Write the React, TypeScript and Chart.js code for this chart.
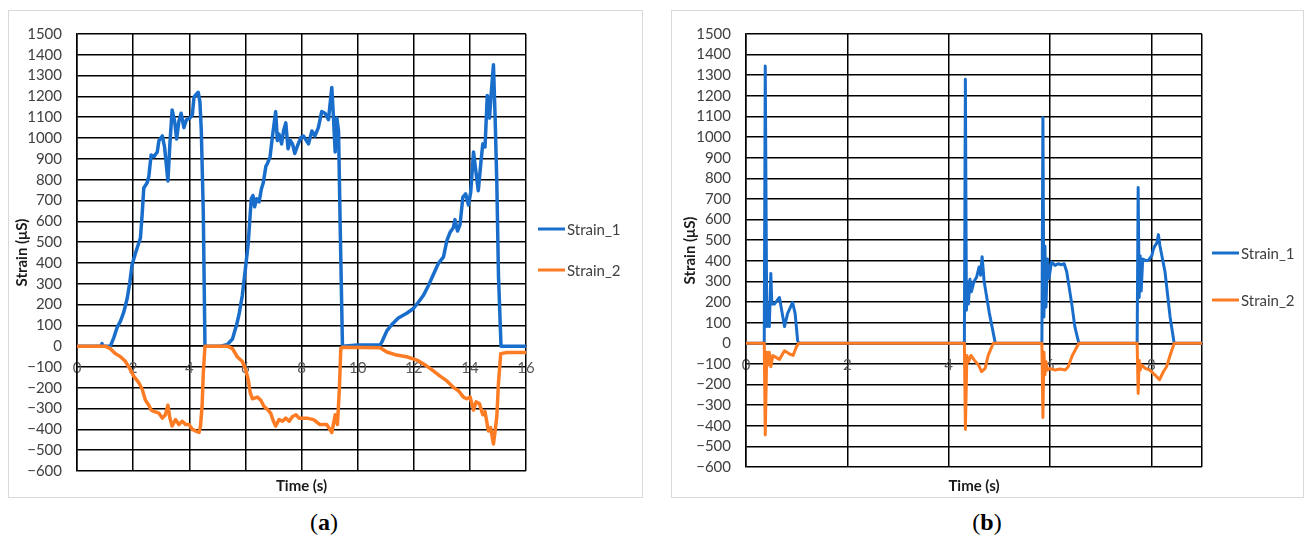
import React, { useEffect, useRef } from 'react';
import { Chart, registerables } from 'chart.js';

Chart.register(...registerables);

// ---------- Panel (a) data ----------
const timeA1 = [
  0, 0.85, 0.89, 0.93, 1.19, 1.31, 1.43, 1.55, 1.67, 1.79,
  1.88, 1.96, 2.08, 2.26, 2.32, 2.38, 2.5, 2.56, 2.64, 2.74,
  2.86, 2.92, 3.04, 3.12, 3.24, 3.31, 3.39, 3.48, 3.55, 3.63,
  3.71, 3.81, 3.9, 4.02, 4.11, 4.17, 4.26, 4.32, 4.38, 4.43,
  4.5, 4.56, 5.12, 5.36, 5.54, 5.69, 5.77, 5.89, 6.01, 6.1,
  6.17, 6.21, 6.27, 6.33, 6.4, 6.49, 6.57, 6.64, 6.73, 6.79,
  6.88, 6.96, 7.08, 7.14, 7.2, 7.29, 7.36, 7.44, 7.52, 7.6,
  7.68, 7.76, 7.86, 7.98, 8.07, 8.25, 8.37, 8.48, 8.6, 8.72,
  8.84, 8.96, 9.08, 9.14, 9.2, 9.26, 9.32, 9.38, 9.46, 10.0,
  10.33, 10.8, 10.86, 11.04, 11.22, 11.45, 11.75, 11.99, 12.17, 12.34,
  12.52, 12.7, 12.88, 13.06, 13.18, 13.29, 13.41, 13.47, 13.56, 13.65,
  13.75, 13.85, 13.95, 14.03, 14.13, 14.22, 14.3, 14.39, 14.46, 14.54,
  14.62, 14.7, 14.75, 14.84, 14.9, 14.96, 15.02, 15.11, 16,
];
const strainA1 = [
  0, 0, 12, 0, 0, 40, 90, 120, 165, 230,
  305, 390, 445, 520, 630, 760, 785, 815, 918, 910,
  933, 988, 1010, 957, 794, 972, 1135, 1080, 995, 1080,
  1119, 1050, 1088, 1096, 1112, 1197, 1212, 1220, 1174, 1034,
  646, 0, 0, 8, 34, 104, 150, 243, 383, 491,
  631, 708, 724, 670, 708, 693, 755, 786, 864, 879,
  910, 1003, 1127, 988, 1019, 972, 1034, 1073, 949, 988,
  972, 926, 964, 1003, 1010, 972, 1034, 1010, 1050, 1127,
  1119, 1088, 1243, 1096, 933, 1096, 1034, 569, 0, 5,
  5, 5, 19, 73, 104, 135, 158, 181, 212, 243,
  290, 344, 398, 429, 507, 546, 569, 608, 553, 584,
  716, 732, 678, 740, 933, 833, 747, 879, 972, 957,
  1205, 1096, 1197, 1352, 1096, 786, 336, 0, 0,
];
const timeA2 = [
  0, 1.0, 1.19, 1.37, 1.55, 1.73, 1.9, 2.02, 2.2, 2.32,
  2.44, 2.56, 2.64, 2.76, 2.92, 3.04, 3.15, 3.24, 3.31, 3.39,
  3.51, 3.63, 3.75, 3.87, 3.99, 4.11, 4.23, 4.35, 4.4, 4.46,
  4.5, 4.56, 5.36, 5.54, 5.71, 5.89, 6.01, 6.1, 6.17, 6.25,
  6.43, 6.55, 6.67, 6.81, 6.9, 7.0, 7.08, 7.2, 7.32, 7.44,
  7.56, 7.68, 7.8, 7.92, 8.19, 8.43, 8.66, 8.9, 9.08, 9.2,
  9.28, 9.35, 9.4, 9.46, 10.8, 11.04, 11.39, 11.75, 12.11, 12.4,
  12.64, 12.94, 13.18, 13.41, 13.59, 13.77, 13.89, 14.01, 14.13, 14.22,
  14.34, 14.46, 14.54, 14.66, 14.74, 14.84, 14.9, 14.96, 15.02, 15.1,
  15.31, 16,
];
const strainA2 = [
  0, 0, -12, -36, -51, -74, -113, -144, -175, -206,
  -260, -284, -307, -315, -322, -346, -330, -284, -346, -384,
  -353, -377, -361, -377, -377, -400, -408, -415, -384, -284,
  -129, 0, 0, -12, -51, -74, -113, -160, -222, -253,
  -245, -260, -291, -307, -322, -361, -384, -353, -361, -346,
  -361, -338, -330, -346, -346, -353, -377, -377, -415, -330,
  -377, -206, -12, -5, -8, -28, -43, -51, -67, -90,
  -113, -144, -167, -198, -214, -245, -253, -245, -307, -268,
  -276, -330, -315, -408, -392, -470, -408, -338, -175, -36,
  -31, -31,
];

// ---------- Panel (b) data ----------
const timeB1 = [
  0, 0.36, 0.38, 0.41, 0.43, 0.46, 0.49, 0.51, 0.56, 0.66,
  0.76, 0.82, 0.92, 0.97, 1.02, 1.05, 4.31, 4.33, 4.35, 4.37,
  4.39, 4.42, 4.45, 4.5, 4.55, 4.6, 4.63, 4.66, 4.7, 4.8,
  4.92, 5.84, 5.86, 5.88, 5.9, 5.92, 5.95, 5.98, 6.03, 6.1,
  6.16, 6.23, 6.28, 6.33, 6.43, 6.49, 6.57, 7.72, 7.74, 7.76,
  7.78, 7.8, 7.83, 7.88, 7.94, 8.01, 8.04, 8.07, 8.11, 8.14,
  8.17, 8.27, 8.37, 8.45, 9,
];
const strainB1 = [
  0, 0, 1345, 81, 190, 81, 339, 190, 190, 222,
  81, 144, 198, 144, 11, 0, 0, 1280, 160, 300,
  190, 310, 250, 300, 320, 370, 330, 420, 300, 150,
  0, 0, 1095, 128, 472, 175, 409, 315, 394, 378,
  386, 381, 386, 347, 190, 81, 0, 0, 755, 222,
  425, 253, 409, 402, 402, 425, 456, 472, 487, 527,
  472, 347, 128, 0, 0,
];
const timeB2 = [
  0, 0.36, 0.38, 0.41, 0.43, 0.46, 0.49, 0.53, 0.66, 0.76,
  0.86, 0.93, 0.99, 1.04, 4.31, 4.33, 4.36, 4.39, 4.44, 4.51,
  4.59, 4.65, 4.72, 4.78, 4.88, 5.84, 5.86, 5.88, 5.9, 5.92,
  5.95, 6.0, 6.1, 6.2, 6.3, 6.36, 6.44, 6.57, 7.72, 7.74,
  7.76, 7.78, 7.81, 7.88, 7.97, 8.07, 8.16, 8.24, 8.3, 8.37,
  8.45, 9,
];
const strainB2 = [
  0, 0, -445, -44, -106, -44, -114, -59, -78, -36,
  -52, -59, -20, 0, 0, -418, -59, -90, -59, -83,
  -106, -137, -122, -59, 0, 0, -360, -44, -153, -90,
  -130, -122, -130, -125, -130, -114, -59, 0, 0, -243,
  -83, -130, -106, -122, -130, -153, -177, -137, -114, -59,
  0, 0,
];

// ---------- Axes / labels ----------
const seriesNames = ['Strain_1', 'Strain_2'];
const seriesColors = ['#1a6ecb', '#fd7b22'];
const yMin = -600;
const yMax = 1500;
const yStep = 100;
const xTicksA = [0, 2, 4, 6, 8, 10, 12, 14, 16];
const xTicksB = [0, 2, 4, 6, 8, 9];
const xLabelsB = [0, 2, 4, 6, 8];
const yTitle = 'Strain (μS)';
const xTitle = 'Time (s)';
const captions = ['a', 'b'];

const FONT = 'Lato, "Open Sans", sans-serif';

function zip(t: number[], v: number[]) {
  const n = Math.min(t.length, v.length);
  const out: { x: number; y: number }[] = [];
  for (let i = 0; i < n; i++) out.push({ x: t[i], y: v[i] });
  return out;
}

const decorPlugin = {
  id: 'decor',
  afterDraw(chart: any, _args: any, opts: any) {
    const ctx = chart.ctx;
    const ca = chart.chartArea;
    ctx.save();
    ctx.font = `bold 15px ${FONT}`;
    ctx.fillStyle = '#1a1a1a';
    ctx.textAlign = 'center';
    ctx.textBaseline = 'middle';
    ctx.fillText(opts.xTitle, (ca.left + ca.right) / 2, opts.xTitleY);
    ctx.font = `15px ${FONT}`;
    ctx.textAlign = 'left';
    ctx.fillStyle = '#404040';
    chart.data.datasets.forEach((ds: any, i: number) => {
      const y = opts.legendY[i];
      ctx.strokeStyle = ds.borderColor;
      ctx.lineWidth = 3;
      ctx.beginPath();
      ctx.moveTo(opts.legendX, y);
      ctx.lineTo(opts.legendX + 27, y);
      ctx.stroke();
      ctx.fillText(ds.label, opts.legendX + 29, y + 1);
    });
    ctx.restore();
  },
};

type PanelProps = {
  left: number;
  top: number;
  width: number;
  height: number;
  area: { l: number; t: number; r: number; b: number };
  xMax: number;
  xTicks: number[];
  xLabels: number[];
  s1: { x: number; y: number }[];
  s2: { x: number; y: number }[];
  lineWidth: number;
  legendX: number;
  legendY: number[];
  titlePad: number;
  caption: string;
  captionX: number;
};

function Panel(p: PanelProps) {
  const ref = useRef<HTMLCanvasElement | null>(null);
  useEffect(() => {
    if (!ref.current) return;
    const gridColor = '#000000';
    const gridWidth = 1.5;
    const mkDs = (i: number, data: any, order: number) => ({
      label: seriesNames[i],
      data,
      borderColor: seriesColors[i],
      backgroundColor: seriesColors[i],
      borderWidth: p.lineWidth,
      borderJoinStyle: 'round',
      borderCapStyle: 'round',
      pointRadius: 0,
      tension: 0,
      order,
    });
    const chart = new Chart(ref.current, {
      type: 'line',
      data: {
        datasets: [mkDs(0, p.s1, 1), mkDs(1, p.s2, 0)],
      },
      options: {
        animation: false,
        responsive: false,
        devicePixelRatio: 1,
        layout: {
          padding: {
            left: 0,
            top: p.area.t,
            right: p.width - p.area.r,
            bottom: p.height - p.area.b,
          },
        },
        plugins: {
          legend: { display: false },
          tooltip: { enabled: false },
          decor: {
            xTitle,
            xTitleY: 476,
            legendX: p.legendX,
            legendY: p.legendY,
          },
        } as any,
        scales: {
          x: {
            type: 'linear',
            position: { y: 0 } as any,
            min: 0,
            max: p.xMax,
            afterBuildTicks: (s: any) => {
              s.ticks = p.xTicks.map((v) => ({ value: v }));
            },
            ticks: {
              autoSkip: false,
              maxRotation: 0,
              padding: 13,
              color: '#595959',
              font: { family: FONT, size: 15 },
              callback: (v: any) => (p.xLabels.includes(Number(v)) ? String(v) : ''),
            },
            grid: { color: gridColor, lineWidth: gridWidth, drawTicks: false },
            border: { display: true, color: gridColor, width: gridWidth },
          },
          y: {
            type: 'linear',
            min: yMin,
            max: yMax,
            afterFit: (s: any) => {
              s.width = p.area.l;
            },
            ticks: {
              stepSize: yStep,
              padding: 15,
              color: '#404040',
              font: { family: FONT, size: 15 },
              callback: (v: any) => String(v).replace('-', '−'),
            },
            grid: { color: gridColor, lineWidth: gridWidth, drawTicks: false },
            border: { display: true, color: gridColor, width: gridWidth },
            title: {
              display: true,
              text: yTitle,
              color: '#1a1a1a',
              font: { family: FONT, size: 15, weight: 'bold' },
              padding: { top: p.titlePad, bottom: 0 },
            },
          },
        },
      },
      plugins: [decorPlugin],
    } as any);
    return () => chart.destroy();
  }, []);
  return (
    <>
      <div
        style={{
          position: 'absolute',
          left: p.left,
          top: p.top,
          width: p.width,
          height: p.height,
          boxSizing: 'border-box',
          border: '1px solid #d9d9d9',
          background: '#ffffff',
        }}
      />
      <canvas
        ref={ref}
        width={p.width}
        height={p.height}
        style={{ position: 'absolute', left: p.left, top: p.top, width: p.width, height: p.height }}
      />
      <div
        style={{
          position: 'absolute',
          left: p.captionX - 60,
          width: 120,
          top: 507,
          textAlign: 'center',
          fontFamily: '"Liberation Serif", "DejaVu Serif", serif',
          fontSize: 24,
          lineHeight: '30px',
          color: '#000',
        }}
      >
        (<b>{p.caption}</b>)
      </div>
    </>
  );
}

export default function App() {
  return (
    <div style={{ position: 'absolute', left: 0, top: 0, width: 1305, height: 542, background: '#fff' }}>
      <Panel
        left={8}
        top={10}
        width={635}
        height={488}
        area={{ l: 69, t: 9, r: 518, b: 461 }}
        xMax={16}
        xTicks={xTicksA}
        xLabels={xTicksA}
        s1={zip(timeA1, strainA1)}
        s2={zip(timeA2, strainA2)}
        lineWidth={3.5}
        legendX={530}
        legendY={[219, 260]}
        titlePad={5}
        caption={captions[0]}
        captionX={324}
      />
      <Panel
        left={671}
        top={10}
        width={633}
        height={488}
        area={{ l: 75, t: 9, r: 531, b: 457 }}
        xMax={9}
        xTicks={xTicksB}
        xLabels={xLabelsB}
        s1={zip(timeB1, strainB1)}
        s2={zip(timeB2, strainB2)}
        lineWidth={3}
        legendX={541}
        legendY={[243, 290]}
        titlePad={10}
        caption={captions[1]}
        captionX={987}
      />
    </div>
  );
}
